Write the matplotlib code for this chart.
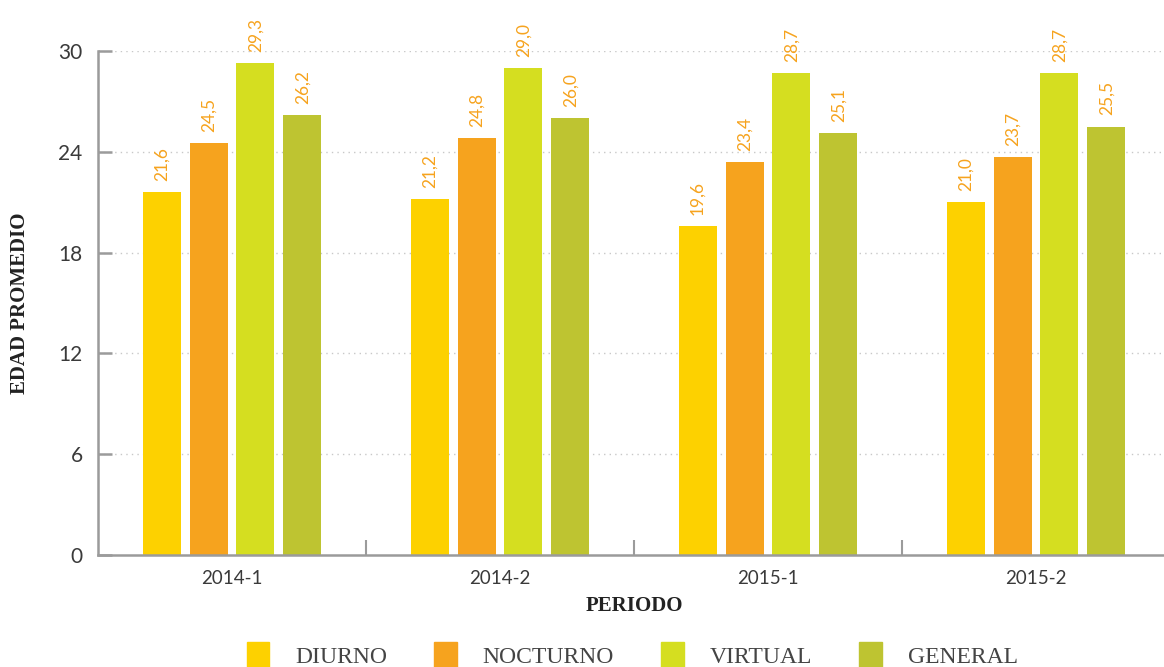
import matplotlib
matplotlib.use("Agg")
import matplotlib.pyplot as plt
import matplotlib.patches as mpatches
import numpy as np

# promedio de edad por periodo y jornada
periodos = ["2014-1", "2014-2", "2015-1", "2015-2"]
jornadas = ["DIURNO", "NOCTURNO", "VIRTUAL", "GENERAL"]
diurno = [21.6, 21.2, 19.6, 21.0]
nocturno = [24.5, 24.8, 23.4, 23.7]
virtual = [29.3, 29.0, 28.7, 28.7]
general = [26.2, 26.0, 25.1, 25.5]
colores = ["#FDD100", "#F6A31E", "#D5DE20", "#BEC431"]
yticks = [0, 6, 12, 18, 24, 30]

series = [diurno, nocturno, virtual, general]

fig = plt.figure(figsize=(11.64, 6.67), dpi=100)
ax = fig.add_axes([98 / 1164, 112 / 667, 1072 / 1164, 504 / 667])

x = np.arange(len(periodos))
ancho = 0.142
paso = 0.175
for i, (vals, color) in enumerate(zip(series, colores)):
    pos = x + (i - 1.5) * paso
    ax.bar(pos, vals, width=ancho, color=color, zorder=2)
    for px, v in zip(pos, vals):
        ax.annotate(f"{v:.1f}".replace(".", ","), xy=(px, v), xytext=(0, 8),
                    textcoords="offset points", rotation=90, ha="center",
                    va="bottom", color="#F6A31E", fontsize=12.5,
                    family="Lato")

ax.set_xlim(-0.5, len(periodos) - 0.5)
ax.set_ylim(0, 30)

for s in ["top", "right"]:
    ax.spines[s].set_visible(False)
for s in ["left", "bottom"]:
    ax.spines[s].set_color("#9b9b9b")
    ax.spines[s].set_linewidth(1.8)

ax.set_yticks(yticks)
ax.set_yticklabels([str(t) for t in yticks], family="Lato", fontsize=15,
                   color="#3a3a3a")
ax.tick_params(axis="y", direction="in", length=10, width=1.8,
               color="#9b9b9b", pad=11)
for t in yticks[1:]:
    ax.axhline(t, color="#c8c8c8", linestyle=(0, (1, 3)), linewidth=1,
               zorder=1)

ax.set_xticks(x)
ax.set_xticklabels(periodos, family="Lato", fontsize=13.5, color="#3a3a3a")
ax.set_xticks(x[:-1] + 0.5, minor=True)
ax.tick_params(axis="x", which="major", length=0, pad=11)
ax.tick_params(axis="x", which="minor", direction="in", length=11,
               width=1.5, color="#9b9b9b")

ax.set_xlabel("PERIODO", family="Liberation Serif", fontsize=15,
              fontweight="bold", color="#222222", labelpad=6)
ax.set_ylabel("EDAD PROMEDIO", family="Liberation Serif", fontsize=15,
              fontweight="bold", color="#222222")
ax.yaxis.set_label_coords(-0.063, 0.5)

handles = [mpatches.Patch(color=c, label=j) for j, c in zip(jornadas, colores)]
fig.legend(handles=handles, loc="lower center", ncol=4, frameon=False,
           bbox_to_anchor=(0.543, -0.035), handlelength=0.95,
           handleheight=1.4, handletextpad=1.1, columnspacing=2.0,
           labelcolor="#444444",
           prop={"family": "Liberation Serif", "size": 17})

fig.savefig("out.png", dpi=100)
